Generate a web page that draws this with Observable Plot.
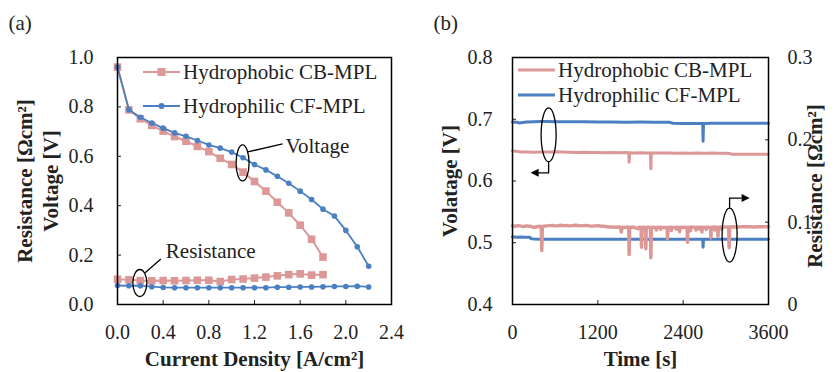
<!DOCTYPE html>
<html><head><meta charset="utf-8">
<script src="https://cdn.jsdelivr.net/npm/d3@7"></script>
<script src="https://cdn.jsdelivr.net/npm/@observablehq/plot@0.6"></script>
<style>
body{margin:0;background:#fff;}
#wrap{display:flex;width:840px;height:372px;overflow:hidden;}
#wrap svg, #wrap svg text{font-family:"Liberation Serif","Times New Roman","DejaVu Serif",serif !important;}
</style></head><body><div id="wrap"></div>
<script>
// ---------- Panel (a) data ----------
const currentPhobic = [0,0.1,0.2,0.3,0.4,0.5,0.6,0.7,0.8,0.9,1.0,1.1,1.2,1.3,1.4,1.5,1.6,1.7,1.8];
const voltagePhobic = [0.961,0.788,0.752,0.725,0.702,0.680,0.661,0.640,0.619,0.592,0.567,0.536,0.498,0.459,0.414,0.371,0.321,0.264,0.192];
const resistPhobic  = [0.102,0.100,0.097,0.096,0.097,0.096,0.097,0.098,0.098,0.093,0.101,0.103,0.107,0.111,0.116,0.121,0.124,0.119,0.121];
const currentPhilic = [0,0.1,0.2,0.3,0.4,0.5,0.6,0.7,0.8,0.9,1.0,1.1,1.2,1.3,1.4,1.5,1.6,1.7,1.8,1.9,2.0,2.1,2.2];
const voltagePhilic = [0.961,0.788,0.758,0.735,0.714,0.695,0.681,0.664,0.646,0.633,0.617,0.594,0.567,0.545,0.519,0.491,0.459,0.425,0.386,0.358,0.300,0.234,0.155];
const resistPhilic  = [0.077,0.076,0.076,0.072,0.069,0.068,0.068,0.068,0.068,0.068,0.068,0.068,0.068,0.068,0.070,0.070,0.071,0.071,0.072,0.073,0.073,0.074,0.071];
const xTicksA = [0,0.4,0.8,1.2,1.6,2.0,2.4];
const yTicksA = [0,0.2,0.4,0.6,0.8,1.0];
const seriesNames = ["Hydrophobic CB-MPL","Hydrophilic CF-MPL"];
const notesA = [{label:"Voltage", x:1.1, y:0.571},{label:"Resistance", x:0.2, y:0.085}];

// ---------- Panel (b) data: [time s, value] ----------
const voltPhobicT = [[0,0.6485],[60,0.6480],[120,0.6470],[200,0.6468],[300,0.6465],[400,0.6468],[500,0.6470],[600,0.6472],[700,0.6468],[800,0.6465],[900,0.6462],[1000,0.6465],[1100,0.6462],[1200,0.6460],[1300,0.6458],[1400,0.6460],[1500,0.6458],[1600,0.6460],[1635,0.6458],[1640,0.6305],[1648,0.6458],[1700,0.6455],[1800,0.6458],[1900,0.6455],[1940,0.6455],[1945,0.6197],[1952,0.6455],[2000,0.6455],[2100,0.6452],[2200,0.6455],[2300,0.6450],[2400,0.6452],[2500,0.6450],[2600,0.6452],[2700,0.6450],[2800,0.6452],[2900,0.6450],[3000,0.6448],[3060,0.6445],[3080,0.6435],[3200,0.6433],[3400,0.6435],[3600,0.6433]];
const voltPhilicT = [[0,0.6955],[60,0.6950],[100,0.6940],[140,0.6948],[200,0.6955],[300,0.6960],[400,0.6965],[500,0.6962],[600,0.6958],[800,0.6960],[1000,0.6958],[1200,0.6955],[1400,0.6955],[1600,0.6952],[1800,0.6955],[2000,0.6953],[2200,0.6950],[2260,0.6935],[2400,0.6930],[2600,0.6932],[2675,0.6930],[2680,0.6645],[2686,0.6930],[2800,0.6935],[3000,0.6935],[3200,0.6937],[3400,0.6935],[3600,0.6937]];
const resPhobicT = [[0,0.0955],[40,0.0950],[80,0.0958],[120,0.0952],[160,0.0948],[200,0.0955],[240,0.0950],[280,0.0945],[300,0.0935],[340,0.0945],[380,0.0950],[405,0.0948],[412,0.0656],[420,0.0945],[440,0.0950],[480,0.0955],[520,0.0958],[560,0.0960],[600,0.0955],[640,0.0958],[680,0.0962],[720,0.0958],[760,0.0960],[800,0.0955],[840,0.0958],[880,0.0962],[920,0.0960],[960,0.0955],[1000,0.0958],[1040,0.0960],[1080,0.0955],[1120,0.0952],[1160,0.0955],[1200,0.0958],[1240,0.0953],[1280,0.0950],[1320,0.0945],[1360,0.0940],[1400,0.0942],[1440,0.0938],[1480,0.0940],[1520,0.0938],[1530,0.0880],[1540,0.0938],[1580,0.0935],[1620,0.0940],[1635,0.0935],[1640,0.0607],[1648,0.0935],[1680,0.0940],[1720,0.0935],[1760,0.0920],[1780,0.0938],[1808,0.0935],[1814,0.0696],[1820,0.0935],[1850,0.0938],[1870,0.0930],[1875,0.0676],[1880,0.0935],[1910,0.0940],[1940,0.0935],[1945,0.0567],[1952,0.0935],[1980,0.0938],[2020,0.0930],[2024,0.0905],[2030,0.0935],[2080,0.0938],[2084,0.0915],[2090,0.0936],[2140,0.0935],[2176,0.0935],[2180,0.0800],[2186,0.0935],[2230,0.0938],[2234,0.0900],[2240,0.0936],[2300,0.0935],[2304,0.0915],[2310,0.0938],[2345,0.0936],[2349,0.0885],[2355,0.0935],[2410,0.0938],[2456,0.0936],[2461,0.0757],[2467,0.0935],[2500,0.0938],[2504,0.0895],[2510,0.0940],[2575,0.0936],[2579,0.0905],[2585,0.0938],[2620,0.0935],[2624,0.0918],[2630,0.0938],[2660,0.0936],[2664,0.0880],[2670,0.0938],[2720,0.0935],[2724,0.0912],[2730,0.0938],[2786,0.0936],[2790,0.0810],[2795,0.0938],[2840,0.0940],[2844,0.0905],[2850,0.0938],[2886,0.0938],[2890,0.0830],[2895,0.0938],[2940,0.0940],[2944,0.0915],[2950,0.0940],[3000,0.0942],[3040,0.0940],[3046,0.0689],[3054,0.0942],[3100,0.0945],[3160,0.0942],[3220,0.0945],[3280,0.0943],[3340,0.0945],[3400,0.0942],[3460,0.0945],[3520,0.0943],[3600,0.0945]];
const resPhilicT = [[0,0.0822],[60,0.0818],[120,0.0820],[180,0.0816],[240,0.0818],[260,0.0800],[300,0.0795],[400,0.0793],[600,0.0794],[800,0.0793],[1000,0.0794],[1200,0.0793],[1400,0.0794],[1600,0.0793],[1800,0.0794],[2000,0.0793],[2200,0.0794],[2400,0.0793],[2600,0.0794],[2675,0.0793],[2680,0.0696],[2686,0.0793],[2800,0.0794],[3000,0.0793],[3200,0.0794],[3400,0.0793],[3600,0.0794]];
const xTicksB = [0,1200,2400,3600];
const yTicksB = [0.4,0.5,0.6,0.7,0.8];
const resTicksB = [0,0.1,0.2,0.3];
const notesB = [{t:515, v:0.674, dir:"left"},{t:3060, v:0.5117, dir:"right"}];

// ---------- styling ----------
const font = "'Liberation Serif','Times New Roman','DejaVu Serif',serif";
const pink = "#DC9896", blue = "#4A7FC1", ink = "#222";
const toV = r => 0.4 + r * (0.4 / 0.3);   // right axis -> left axis mapping

function legend(items, x0, x1, y0, gap, tx){
  return () => {
    const g = d3.create("svg:g");
    items.forEach((it, i) => {
      const y = y0 + i * gap;
      g.append("line").attr("x1", x0).attr("x2", x1).attr("y1", y).attr("y2", y)
        .attr("stroke", it.color).attr("stroke-width", it.sw);
      const m = (x0 + x1) / 2;
      if (it.sym === "square") g.append("rect").attr("x", m - 4).attr("y", y - 4).attr("width", 8).attr("height", 8).attr("fill", it.color);
      if (it.sym === "circle") g.append("circle").attr("cx", m).attr("cy", y).attr("r", 3).attr("fill", it.color);
      g.append("text").attr("x", tx).attr("y", y).attr("dy", "0.35em").attr("font-size", 21)
        .attr("text-anchor", "start").attr("font-family", font).attr("fill", ink).text(it.label);
    });
    return g.node();
  };
}

const wrap = document.getElementById("wrap");

// ---------- Panel (a) ----------
const rowsPhobic = currentPhobic.map((c, i) => ({c, v: voltagePhobic[i], r: resistPhobic[i]}));
const rowsPhilic = currentPhilic.map((c, i) => ({c, v: voltagePhilic[i], r: resistPhilic[i]}));

const noteText = (g, x, y, s) => g.append("text").attr("x", x).attr("y", y).attr("dy", "0.35em")
  .attr("stroke", "none").attr("fill", ink).attr("text-anchor", "start")
  .attr("font-size", 21).attr("font-family", font).text(s);

const notesMarkA = (index, scales) => {
  const g = d3.create("svg:g").attr("fill", "none").attr("stroke", "black").attr("stroke-width", 1.3);
  const [nv, nr] = notesA;
  let cx = scales.x(nv.x), cy = scales.y(nv.y);
  g.append("ellipse").attr("cx", cx).attr("cy", cy).attr("rx", 6.5).attr("ry", 18);
  g.append("line").attr("x1", cx + 5).attr("y1", cy - 11).attr("x2", cx + 40).attr("y2", cy - 19);
  noteText(g, cx + 43, cy - 17, nv.label);
  cx = scales.x(nr.x); cy = scales.y(nr.y);
  g.append("ellipse").attr("cx", cx).attr("cy", cy).attr("rx", 7).attr("ry", 13.5);
  g.append("line").attr("x1", cx + 5).attr("y1", cy - 10).attr("x2", cx + 21).attr("y2", cy - 24);
  noteText(g, cx + 26, cy - 32, nr.label);
  return g.node();
};

const plotA = Plot.plot({
  width: 420, height: 372,
  marginLeft: 117, marginRight: 29, marginTop: 57, marginBottom: 68,
  style: {fontFamily: font, fontSize: "20px", color: ink, background: "white"},
  x: {domain: [0, 2.4]},
  y: {domain: [0, 1]},
  marks: [
    Plot.axisX({ticks: xTicksA, tickSize: -4, tickFormat: () => "", label: null}),
    Plot.axisX({ticks: xTicksA, tickSize: 0, tickPadding: 20, tickFormat: d3.format(".1f"), fontSize: 20, label: null}),
    Plot.axisY({ticks: yTicksA, tickSize: -4, tickFormat: () => "", label: null}),
    Plot.axisY({ticks: yTicksA, tickSize: 0, tickPadding: 24, tickFormat: d3.format(".1f"), fontSize: 20, label: null}),
    Plot.line(rowsPhobic, {x: "c", y: "v", stroke: pink, strokeWidth: 2}),
    Plot.dot(rowsPhobic, {x: "c", y: "v", symbol: "square", r: 4.3, fill: pink}),
    Plot.line(rowsPhobic, {x: "c", y: "r", stroke: pink, strokeWidth: 2}),
    Plot.dot(rowsPhobic, {x: "c", y: "r", symbol: "square", r: 4.3, fill: pink}),
    Plot.line(rowsPhilic, {x: "c", y: "v", stroke: blue, strokeWidth: 1.8}),
    Plot.dot(rowsPhilic, {x: "c", y: "v", r: 2.8, fill: blue}),
    Plot.line(rowsPhilic, {x: "c", y: "r", stroke: blue, strokeWidth: 1.8}),
    Plot.dot(rowsPhilic, {x: "c", y: "r", r: 2.8, fill: blue}),
    Plot.frame({stroke: "black", strokeWidth: 1.5}),
    notesMarkA,
    legend([{label: seriesNames[0], color: pink, sw: 2, sym: "square"},
            {label: seriesNames[1], color: blue, sw: 2, sym: "circle"}], 143, 180, 72, 34, 183),
    Plot.text(["Resistance [Ωcm²]"], {text: d => d, frameAnchor: "left", dx: -92, rotate: -90, textAnchor: "middle", lineAnchor: "middle", fontWeight: "bold", fontSize: 21, fill: ink}),
    Plot.text(["Voltage [V]"], {text: d => d, frameAnchor: "left", dx: -66, rotate: -90, textAnchor: "middle", lineAnchor: "middle", fontWeight: "bold", fontSize: 21, fill: ink}),
    Plot.text(["Current Density [A/cm²]"], {text: d => d, frameAnchor: "bottom", dy: 55, textAnchor: "middle", lineAnchor: "middle", fontWeight: "bold", fontSize: 21, fill: ink}),
    Plot.text(["(a)"], {text: d => d, frameAnchor: "top-left", dx: -109, dy: -34, textAnchor: "start", lineAnchor: "middle", fontSize: 21, fill: ink})
  ]
});
wrap.appendChild(plotA);

// ---------- Panel (b) ----------
const notesMarkB = (index, scales) => {
  const g = d3.create("svg:g").attr("fill", "none").attr("stroke", "black").attr("stroke-width", 1.3);
  notesB.forEach(n => {
    const cx = scales.x(n.t), cy = scales.y(n.v);
    g.append("ellipse").attr("cx", cx).attr("cy", cy).attr("rx", 7.5).attr("ry", 27);
    if (n.dir === "left") {
      g.append("polyline").attr("points", `${cx},${cy + 27} ${cx},${cy + 38} ${cx - 11},${cy + 38}`);
      g.append("path").attr("d", `M${cx - 18},${cy + 38} L${cx - 10},${cy + 34} L${cx - 10},${cy + 42} Z`).attr("fill", "black").attr("stroke", "none");
    } else {
      g.append("polyline").attr("points", `${cx},${cy - 27} ${cx},${cy - 37} ${cx + 12},${cy - 37}`);
      g.append("path").attr("d", `M${cx + 20},${cy - 37} L${cx + 12},${cy - 41} L${cx + 12},${cy - 33} Z`).attr("fill", "black").attr("stroke", "none");
    }
  });
  return g.node();
};

const resFmt = v => { const r = (v - 0.4) * 0.75; return r < 1e-6 ? "0" : r.toFixed(1); };

const plotB = Plot.plot({
  width: 420, height: 372,
  marginLeft: 92, marginRight: 72, marginTop: 57, marginBottom: 68,
  style: {fontFamily: font, fontSize: "20px", color: ink, background: "white"},
  x: {domain: [0, 3600]},
  y: {domain: [0.4, 0.8]},
  marks: [
    Plot.axisX({ticks: xTicksB, tickSize: -4, tickFormat: () => "", label: null}),
    Plot.axisX({ticks: xTicksB, tickSize: 0, tickPadding: 20, tickFormat: d3.format("d"), fontSize: 20, label: null}),
    Plot.axisY({ticks: yTicksB, tickSize: -4, tickFormat: () => "", label: null}),
    Plot.axisY({ticks: yTicksB, tickSize: 0, tickPadding: 20, tickFormat: d3.format(".1f"), fontSize: 20, label: null}),
    Plot.axisY({anchor: "right", ticks: resTicksB.map(toV), tickSize: -4, tickFormat: () => "", label: null}),
    Plot.axisY({anchor: "right", ticks: resTicksB.map(toV), tickSize: 0, tickPadding: 19, tickFormat: resFmt, fontSize: 20, label: null}),
    Plot.line(voltPhilicT, {x: d => d[0], y: d => d[1], stroke: blue, strokeWidth: 3}),
    Plot.line(resPhilicT, {x: d => d[0], y: d => toV(d[1]), stroke: blue, strokeWidth: 3}),
    Plot.line(voltPhobicT, {x: d => d[0], y: d => d[1], stroke: pink, strokeWidth: 3}),
    Plot.line(resPhobicT, {x: d => d[0], y: d => toV(d[1]), stroke: pink, strokeWidth: 3.5}),
    Plot.frame({stroke: "black", strokeWidth: 1.5}),
    notesMarkB,
    legend([{label: seriesNames[0], color: pink, sw: 3},
            {label: seriesNames[1], color: blue, sw: 3}], 98, 135, 70, 25, 138),
    Plot.text(["Volatage [V]"], {text: d => d, frameAnchor: "left", dx: -62, rotate: -90, textAnchor: "middle", lineAnchor: "middle", fontWeight: "bold", fontSize: 21, fill: ink}),
    Plot.text(["Resistance [Ωcm²]"], {text: d => d, frameAnchor: "right", dx: 47, dy: 5, rotate: -90, textAnchor: "middle", lineAnchor: "middle", fontWeight: "bold", fontSize: 21, fill: ink}),
    Plot.text(["Time [s]"], {text: d => d, frameAnchor: "bottom", dy: 55, textAnchor: "middle", lineAnchor: "middle", fontWeight: "bold", fontSize: 21, fill: ink}),
    Plot.text(["(b)"], {text: d => d, frameAnchor: "top-left", dx: -79, dy: -34, textAnchor: "start", lineAnchor: "middle", fontSize: 21, fill: ink})
  ]
});
wrap.appendChild(plotB);
</script></body></html>
